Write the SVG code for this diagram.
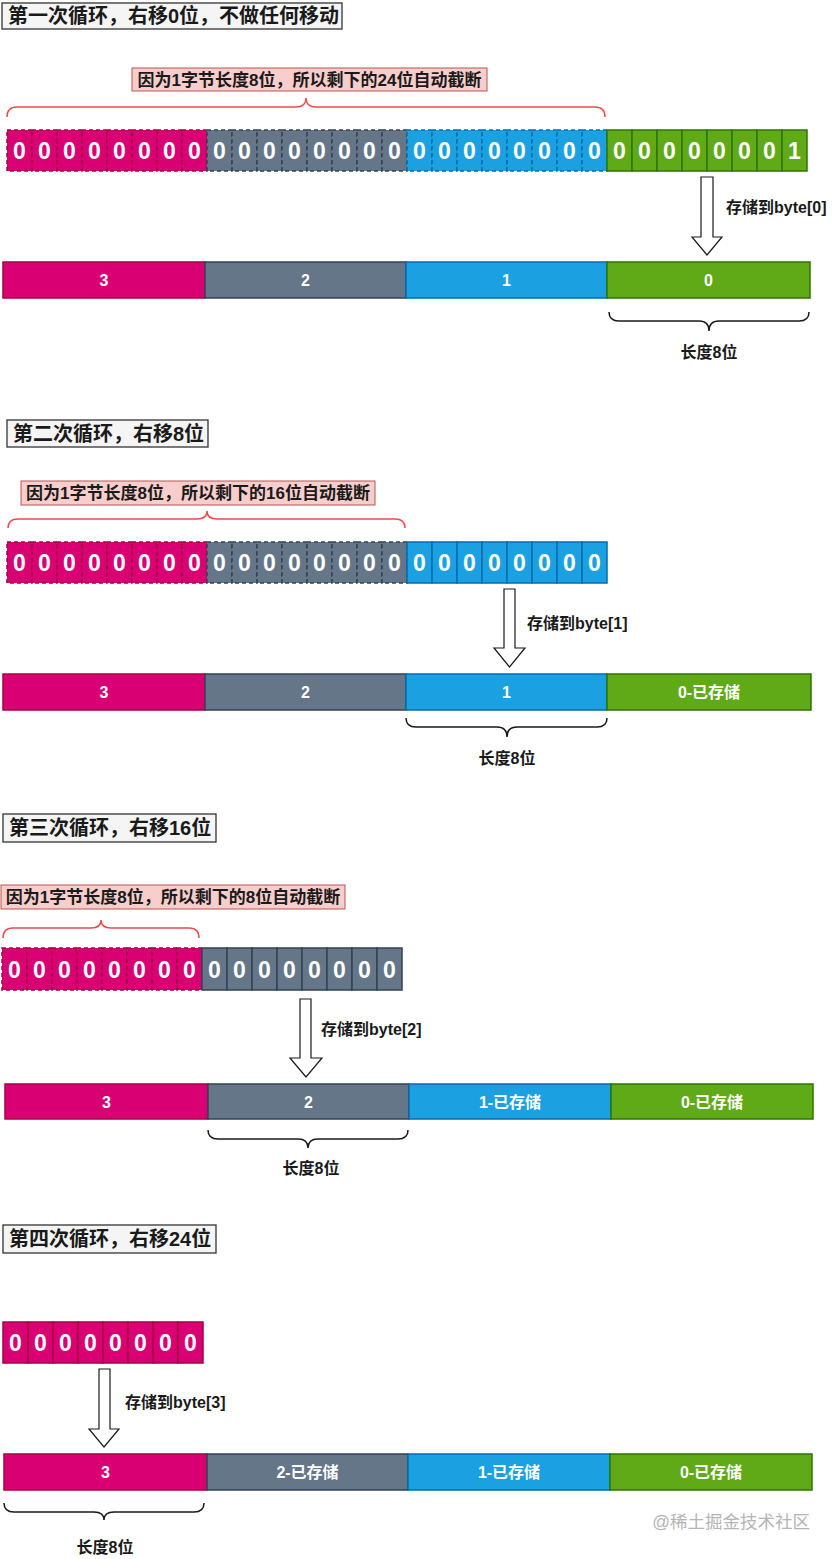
<svg xmlns="http://www.w3.org/2000/svg" width="838" height="1559" viewBox="0 0 838 1559">
<style>
text{font-family:"Liberation Sans","Noto Sans CJK SC",sans-serif;font-weight:bold}
.tb{fill:#f5f5f5;stroke:#333;stroke-width:1.3}
.tt{font-size:20px;fill:#1a1a1a}
.rl{fill:#f8cecc;stroke:#b85450;stroke-width:1}
.rt{font-size:17px;fill:#1a1a1a;text-anchor:middle}
.rb{fill:none;stroke:#ea4b4b;stroke-width:1.5}
.kb{fill:none;stroke:#1a1a1a;stroke-width:1.5}
.p{fill:#d80073;stroke:#a50040;stroke-width:1.5}
.g{fill:#647687;stroke:#314354;stroke-width:1.5}
.b{fill:#1ba1e2;stroke:#006eaf;stroke-width:1.5}
.n{fill:#60a917;stroke:#2d7600;stroke-width:1.5}
.d{stroke-dasharray:4 3}
.bit{font-size:23px;fill:#fff;text-anchor:middle}
.bl{font-size:16px;fill:#fff;text-anchor:middle}
.ar{fill:#fff;stroke:#1a1a1a;stroke-width:1.2}
.al{font-size:16px;fill:#1a1a1a}
.ll{font-size:16px;fill:#1a1a1a;text-anchor:middle}
.wm{font-size:17.5px;fill:#b4b4b4;font-weight:normal;text-anchor:end}
</style>

<!-- Section 1 -->
<g id="title1"><rect class="tb" x="2" y="3" width="340" height="26"/><text class="tt" x="8" y="23">第一次循环，右移0位，不做任何移动</text></g>
<g id="note1"><rect class="rl" x="132" y="68" width="355" height="23"/><text class="rt" x="309.5" y="86">因为1字节长度8位，所以剩下的24位自动截断</text></g>
<g id="brace1"><path class="rb" d="M7,117 Q7,107 17,107 L296,107 Q306,107 306,98 Q306,107 316,107 L595,107 Q605,107 605,117"/></g>
<g id="bits1">
<g id="bits1-b3">
<rect class="p d" x="7" y="130" width="25" height="41"/><rect class="p d" x="32" y="130" width="25" height="41"/><rect class="p d" x="57" y="130" width="25" height="41"/><rect class="p d" x="82" y="130" width="25" height="41"/><rect class="p d" x="107" y="130" width="25" height="41"/><rect class="p d" x="132" y="130" width="25" height="41"/><rect class="p d" x="157" y="130" width="25" height="41"/><rect class="p d" x="182" y="130" width="25" height="41"/>
<text class="bit" x="19.5" y="159">0</text><text class="bit" x="44.5" y="159">0</text><text class="bit" x="69.5" y="159">0</text><text class="bit" x="94.5" y="159">0</text><text class="bit" x="119.5" y="159">0</text><text class="bit" x="144.5" y="159">0</text><text class="bit" x="169.5" y="159">0</text><text class="bit" x="194.5" y="159">0</text>
</g>
<g id="bits1-b2">
<rect class="g d" x="207" y="130" width="25" height="41"/><rect class="g d" x="232" y="130" width="25" height="41"/><rect class="g d" x="257" y="130" width="25" height="41"/><rect class="g d" x="282" y="130" width="25" height="41"/><rect class="g d" x="307" y="130" width="25" height="41"/><rect class="g d" x="332" y="130" width="25" height="41"/><rect class="g d" x="357" y="130" width="25" height="41"/><rect class="g d" x="382" y="130" width="25" height="41"/>
<text class="bit" x="219.5" y="159">0</text><text class="bit" x="244.5" y="159">0</text><text class="bit" x="269.5" y="159">0</text><text class="bit" x="294.5" y="159">0</text><text class="bit" x="319.5" y="159">0</text><text class="bit" x="344.5" y="159">0</text><text class="bit" x="369.5" y="159">0</text><text class="bit" x="394.5" y="159">0</text>
</g>
<g id="bits1-b1">
<rect class="b d" x="407" y="130" width="25" height="41"/><rect class="b d" x="432" y="130" width="25" height="41"/><rect class="b d" x="457" y="130" width="25" height="41"/><rect class="b d" x="482" y="130" width="25" height="41"/><rect class="b d" x="507" y="130" width="25" height="41"/><rect class="b d" x="532" y="130" width="25" height="41"/><rect class="b d" x="557" y="130" width="25" height="41"/><rect class="b d" x="582" y="130" width="25" height="41"/>
<text class="bit" x="419.5" y="159">0</text><text class="bit" x="444.5" y="159">0</text><text class="bit" x="469.5" y="159">0</text><text class="bit" x="494.5" y="159">0</text><text class="bit" x="519.5" y="159">0</text><text class="bit" x="544.5" y="159">0</text><text class="bit" x="569.5" y="159">0</text><text class="bit" x="594.5" y="159">0</text>
</g>
<g id="bits1-b0">
<rect class="n" x="607" y="130" width="25" height="41"/><rect class="n" x="632" y="130" width="25" height="41"/><rect class="n" x="657" y="130" width="25" height="41"/><rect class="n" x="682" y="130" width="25" height="41"/><rect class="n" x="707" y="130" width="25" height="41"/><rect class="n" x="732" y="130" width="25" height="41"/><rect class="n" x="757" y="130" width="25" height="41"/><rect class="n" x="782" y="130" width="25" height="41"/>
<text class="bit" x="619.5" y="159">0</text><text class="bit" x="644.5" y="159">0</text><text class="bit" x="669.5" y="159">0</text><text class="bit" x="694.5" y="159">0</text><text class="bit" x="719.5" y="159">0</text><text class="bit" x="744.5" y="159">0</text><text class="bit" x="769.5" y="159">0</text><text class="bit" x="794.5" y="159">1</text>
</g>
</g>
<g id="bytes1">
<g id="bytes1-3"><rect class="p" x="3" y="262" width="202" height="36"/><text class="bl" x="104" y="286">3</text></g>
<g id="bytes1-2"><rect class="g" x="205" y="262" width="201" height="36"/><text class="bl" x="305.5" y="286">2</text></g>
<g id="bytes1-1"><rect class="b" x="406" y="262" width="201" height="36"/><text class="bl" x="506.5" y="286">1</text></g>
<g id="bytes1-0"><rect class="n" x="607" y="262" width="203" height="36"/><text class="bl" x="708.5" y="286">0</text></g>
</g>
<g id="brace1b"><path class="kb" d="M609,312 Q609,321 619,321 L699,321 Q709,321 709,331 Q709,321 719,321 L799,321 Q809,321 809,312"/><text class="ll" x="709" y="358">长度8位</text></g>

<!-- Section 2 -->
<g id="title2"><rect class="tb" x="7" y="420" width="201" height="27"/><text class="tt" x="13" y="441">第二次循环，右移8位</text></g>
<g id="note2"><rect class="rl" x="21" y="481" width="354" height="24"/><text class="rt" x="198" y="499">因为1字节长度8位，所以剩下的16位自动截断</text></g>
<g id="brace2"><path class="rb" d="M8,528 Q8,519 18,519 L197,519 Q207,519 207,511 Q207,519 217,519 L395,519 Q405,519 405,528"/></g>
<g id="bits2">
<g id="bits2-b3">
<rect class="p d" x="7" y="542" width="25" height="41"/><rect class="p d" x="32" y="542" width="25" height="41"/><rect class="p d" x="57" y="542" width="25" height="41"/><rect class="p d" x="82" y="542" width="25" height="41"/><rect class="p d" x="107" y="542" width="25" height="41"/><rect class="p d" x="132" y="542" width="25" height="41"/><rect class="p d" x="157" y="542" width="25" height="41"/><rect class="p d" x="182" y="542" width="25" height="41"/>
<text class="bit" x="19.5" y="571">0</text><text class="bit" x="44.5" y="571">0</text><text class="bit" x="69.5" y="571">0</text><text class="bit" x="94.5" y="571">0</text><text class="bit" x="119.5" y="571">0</text><text class="bit" x="144.5" y="571">0</text><text class="bit" x="169.5" y="571">0</text><text class="bit" x="194.5" y="571">0</text>
</g>
<g id="bits2-b2">
<rect class="g d" x="207" y="542" width="25" height="41"/><rect class="g d" x="232" y="542" width="25" height="41"/><rect class="g d" x="257" y="542" width="25" height="41"/><rect class="g d" x="282" y="542" width="25" height="41"/><rect class="g d" x="307" y="542" width="25" height="41"/><rect class="g d" x="332" y="542" width="25" height="41"/><rect class="g d" x="357" y="542" width="25" height="41"/><rect class="g d" x="382" y="542" width="25" height="41"/>
<text class="bit" x="219.5" y="571">0</text><text class="bit" x="244.5" y="571">0</text><text class="bit" x="269.5" y="571">0</text><text class="bit" x="294.5" y="571">0</text><text class="bit" x="319.5" y="571">0</text><text class="bit" x="344.5" y="571">0</text><text class="bit" x="369.5" y="571">0</text><text class="bit" x="394.5" y="571">0</text>
</g>
<g id="bits2-b1">
<rect class="b" x="407" y="542" width="25" height="41"/><rect class="b" x="432" y="542" width="25" height="41"/><rect class="b" x="457" y="542" width="25" height="41"/><rect class="b" x="482" y="542" width="25" height="41"/><rect class="b" x="507" y="542" width="25" height="41"/><rect class="b" x="532" y="542" width="25" height="41"/><rect class="b" x="557" y="542" width="25" height="41"/><rect class="b" x="582" y="542" width="25" height="41"/>
<text class="bit" x="419.5" y="571">0</text><text class="bit" x="444.5" y="571">0</text><text class="bit" x="469.5" y="571">0</text><text class="bit" x="494.5" y="571">0</text><text class="bit" x="519.5" y="571">0</text><text class="bit" x="544.5" y="571">0</text><text class="bit" x="569.5" y="571">0</text><text class="bit" x="594.5" y="571">0</text>
</g>
</g>
<g id="bytes2">
<g id="bytes2-3"><rect class="p" x="3" y="674" width="202" height="36"/><text class="bl" x="104" y="698">3</text></g>
<g id="bytes2-2"><rect class="g" x="205" y="674" width="201" height="36"/><text class="bl" x="305.5" y="698">2</text></g>
<g id="bytes2-1"><rect class="b" x="406" y="674" width="201" height="36"/><text class="bl" x="506.5" y="698">1</text></g>
<g id="bytes2-0"><rect class="n" x="607" y="674" width="204" height="36"/><text class="bl" x="709" y="698">0-已存储</text></g>
</g>
<g id="brace2b"><path class="kb" d="M406,718 Q406,727 416,727 L497,727 Q507,727 507,737 Q507,727 517,727 L597,727 Q607,727 607,718"/><text class="ll" x="507" y="764">长度8位</text></g>

<!-- Section 3 -->
<g id="title3"><rect class="tb" x="3" y="814" width="213" height="28"/><text class="tt" x="9" y="835">第三次循环，右移16位</text></g>
<g id="note3"><rect class="rl" x="1" y="885" width="344" height="24"/><text class="rt" x="173" y="903">因为1字节长度8位，所以剩下的8位自动截断</text></g>
<g id="brace3"><path class="rb" d="M3,938 Q3,928 13,928 L91,928 Q101,928 101,920 Q101,928 111,928 L189,928 Q199,928 199,938"/></g>
<g id="bits3">
<g id="bits3-b3">
<rect class="p d" x="2" y="948" width="25" height="42"/><rect class="p d" x="27" y="948" width="25" height="42"/><rect class="p d" x="52" y="948" width="25" height="42"/><rect class="p d" x="77" y="948" width="25" height="42"/><rect class="p d" x="102" y="948" width="25" height="42"/><rect class="p d" x="127" y="948" width="25" height="42"/><rect class="p d" x="152" y="948" width="25" height="42"/><rect class="p d" x="177" y="948" width="25" height="42"/>
<text class="bit" x="14.5" y="977.5">0</text><text class="bit" x="39.5" y="977.5">0</text><text class="bit" x="64.5" y="977.5">0</text><text class="bit" x="89.5" y="977.5">0</text><text class="bit" x="114.5" y="977.5">0</text><text class="bit" x="139.5" y="977.5">0</text><text class="bit" x="164.5" y="977.5">0</text><text class="bit" x="189.5" y="977.5">0</text>
</g>
<g id="bits3-b2">
<rect class="g" x="202" y="948" width="25" height="42"/><rect class="g" x="227" y="948" width="25" height="42"/><rect class="g" x="252" y="948" width="25" height="42"/><rect class="g" x="277" y="948" width="25" height="42"/><rect class="g" x="302" y="948" width="25" height="42"/><rect class="g" x="327" y="948" width="25" height="42"/><rect class="g" x="352" y="948" width="25" height="42"/><rect class="g" x="377" y="948" width="25" height="42"/>
<text class="bit" x="214.5" y="977.5">0</text><text class="bit" x="239.5" y="977.5">0</text><text class="bit" x="264.5" y="977.5">0</text><text class="bit" x="289.5" y="977.5">0</text><text class="bit" x="314.5" y="977.5">0</text><text class="bit" x="339.5" y="977.5">0</text><text class="bit" x="364.5" y="977.5">0</text><text class="bit" x="389.5" y="977.5">0</text>
</g>
</g>
<g id="bytes3">
<g id="bytes3-3"><rect class="p" x="5" y="1084" width="203" height="35"/><text class="bl" x="106.5" y="1107.5">3</text></g>
<g id="bytes3-2"><rect class="g" x="208" y="1084" width="201" height="35"/><text class="bl" x="308.5" y="1107.5">2</text></g>
<g id="bytes3-1"><rect class="b" x="409" y="1084" width="202" height="35"/><text class="bl" x="510" y="1107.5">1-已存储</text></g>
<g id="bytes3-0"><rect class="n" x="611" y="1084" width="202" height="35"/><text class="bl" x="712" y="1107.5">0-已存储</text></g>
</g>
<g id="brace3b"><path class="kb" d="M208,1130 Q208,1139 218,1139 L298,1139 Q308,1139 308,1148 Q308,1139 318,1139 L398,1139 Q408,1139 408,1130"/><text class="ll" x="311" y="1174">长度8位</text></g>

<!-- Section 4 -->
<g id="title4"><rect class="tb" x="3" y="1225" width="213" height="28"/><text class="tt" x="9" y="1246">第四次循环，右移24位</text></g>
<g id="bits4">
<rect class="p" x="3" y="1322" width="25" height="41"/><rect class="p" x="28" y="1322" width="25" height="41"/><rect class="p" x="53" y="1322" width="25" height="41"/><rect class="p" x="78" y="1322" width="25" height="41"/><rect class="p" x="103" y="1322" width="25" height="41"/><rect class="p" x="128" y="1322" width="25" height="41"/><rect class="p" x="153" y="1322" width="25" height="41"/><rect class="p" x="178" y="1322" width="25" height="41"/>
<text class="bit" x="15.5" y="1351">0</text><text class="bit" x="40.5" y="1351">0</text><text class="bit" x="65.5" y="1351">0</text><text class="bit" x="90.5" y="1351">0</text><text class="bit" x="115.5" y="1351">0</text><text class="bit" x="140.5" y="1351">0</text><text class="bit" x="165.5" y="1351">0</text><text class="bit" x="190.5" y="1351">0</text>
</g>
<g id="bytes4">
<g id="bytes4-3"><rect class="p" x="4" y="1454" width="203" height="36"/><text class="bl" x="105.5" y="1478">3</text></g>
<g id="bytes4-2"><rect class="g" x="207" y="1454" width="201" height="36"/><text class="bl" x="307.5" y="1478">2-已存储</text></g>
<g id="bytes4-1"><rect class="b" x="408" y="1454" width="202" height="36"/><text class="bl" x="509" y="1478">1-已存储</text></g>
<g id="bytes4-0"><rect class="n" x="610" y="1454" width="202" height="36"/><text class="bl" x="711" y="1478">0-已存储</text></g>
</g>
<g id="brace4b"><path class="kb" d="M4,1503 Q4,1512 14,1512 L94,1512 Q104,1512 104,1520 Q104,1512 114,1512 L194,1512 Q204,1512 204,1503"/><text class="ll" x="105" y="1553">长度8位</text></g>

<!-- Connectors: block arrows -->
<g id="connectors">
<g id="arrow1"><polygon class="ar" points="701,177 713,177 713,237 722,237 707,255 692,237 701,237"/><text class="al" x="726" y="213">存储到byte[0]</text></g>
<g id="arrow2"><polygon class="ar" points="504,589 515,589 515,648 525,648 509.5,667 494,648 504,648"/><text class="al" x="527" y="629">存储到byte[1]</text></g>
<g id="arrow3"><polygon class="ar" points="300,999 311,999 311,1058 322,1058 306,1077 290,1058 300,1058"/><text class="al" x="321" y="1035">存储到byte[2]</text></g>
<g id="arrow4"><polygon class="ar" points="99,1369 110,1369 110,1429 119,1429 104,1447 89,1429 99,1429"/><text class="al" x="125" y="1408">存储到byte[3]</text></g>
</g>

<text class="wm" x="810" y="1528">@稀土掘金技术社区</text>
</svg>
